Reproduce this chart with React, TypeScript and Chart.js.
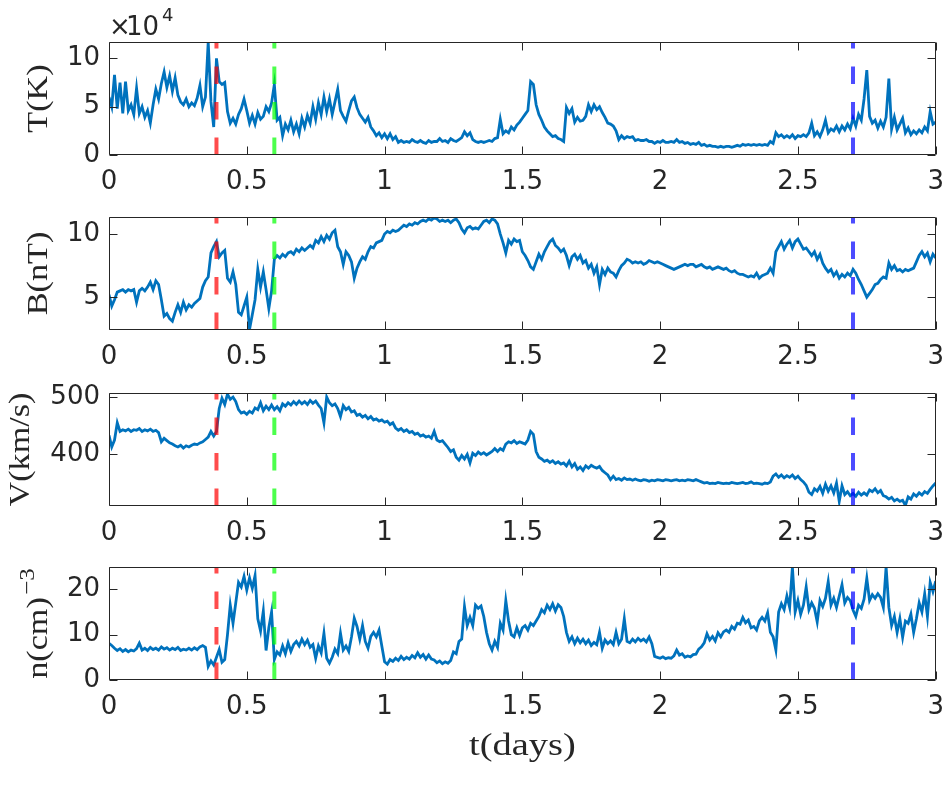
import { useEffect, useRef } from 'react';
import { Chart, registerables } from 'chart.js';

Chart.register(...registerables);

// Sampling interval of every series below, in days
const SAMPLE_STEP_DAYS = 0.01;

// Proton temperature, in units of 10^4 K
const temperature = [
  6.0, 5.0, 8.3, 4.8, 7.5, 4.3, 7.6, 4.6, 5.2, 4.2,
  6.9, 4.3, 5.0, 3.9, 4.6, 3.3, 5.2, 6.8, 5.8, 7.4,
  8.6, 7.0, 8.2, 6.6, 8.0, 6.2, 5.5, 5.2, 5.8, 5.0,
  5.4, 5.1, 5.9, 7.2, 5.0, 6.0, 11.7, 5.5, 2.9, 10.0,
  7.6, 7.3, 7.5, 4.5, 3.3, 3.8, 3.2, 4.2, 4.8, 5.8,
  4.6, 3.3, 4.1, 3.2, 4.4, 3.7, 4.0, 5.0, 4.5, 5.4,
  7.3, 3.6, 3.9, 2.0, 3.2, 2.6, 3.6, 2.4, 3.2, 2.2,
  3.8, 2.9, 4.1, 3.3, 5.0, 3.7, 5.4, 4.2, 6.0, 4.5,
  5.8, 4.2, 5.5, 6.8, 4.6, 4.0, 3.5, 4.6, 5.6, 6.0,
  4.9, 4.2, 3.8, 3.4, 3.9, 2.9, 2.5, 2.0, 2.3, 1.8,
  2.2, 1.7, 2.2, 1.6, 1.9, 1.3, 1.5, 1.3, 1.4, 1.3,
  1.6, 1.4, 1.3, 1.5, 1.3, 1.2, 1.5, 1.3, 1.4, 1.4,
  1.7, 1.4, 1.5, 1.3, 1.7, 1.5, 1.4, 1.6, 1.8, 2.4,
  2.0, 2.3, 1.6, 1.4, 1.3, 1.4, 1.3, 1.4, 1.5, 1.4,
  1.7, 1.8, 3.7, 2.2, 2.5, 2.3, 2.9, 2.6, 3.1, 3.4,
  3.8, 4.2, 4.6, 7.6, 7.3, 5.2, 4.2, 3.6, 2.9, 2.5,
  2.2, 1.9, 2.0, 1.7, 1.6, 1.4, 4.9, 4.3, 4.8, 3.4,
  3.9, 3.5, 3.6, 4.0, 5.2, 4.5, 5.2, 4.7, 5.0, 4.4,
  3.9, 3.3, 3.2, 3.0, 2.5, 1.6, 2.0, 1.7, 1.9, 1.8,
  1.9, 1.5, 1.6, 1.5, 1.5, 1.6, 1.4, 1.4, 1.2, 1.4,
  1.3, 1.5, 1.3, 1.3, 1.4, 1.3, 1.6, 1.3, 1.4, 1.2,
  1.3, 1.1, 1.2, 1.1, 1.3, 1.0, 1.1, 0.9, 1.0, 0.9,
  0.9, 0.8, 0.9, 0.8, 0.9, 0.9, 0.8, 0.9, 1.0, 0.9,
  1.1, 1.0, 1.1, 1.0, 1.1, 1.0, 1.1, 1.0, 1.1, 1.0,
  1.4, 1.2, 2.3, 1.9, 2.1, 1.8, 2.0, 1.8, 2.1, 1.7,
  2.0, 1.9, 2.1, 1.9, 2.3, 3.3, 2.0, 2.4, 1.9, 2.6,
  3.6, 2.3, 2.7, 2.5, 3.0, 2.4, 3.0, 2.6, 3.2, 2.7,
  3.8, 3.0, 4.2, 3.6, 5.8, 8.8, 4.0, 3.3, 3.6, 2.8,
  3.5, 2.9, 3.9, 7.9, 2.7, 3.9, 2.6, 3.2, 3.8, 2.3,
  2.8, 2.1, 2.5, 2.2, 2.6, 2.3, 2.9, 2.5, 4.5, 3.2,
  3.4,
];

// Magnetic field magnitude, nT
const magneticField = [
  5.2, 4.3, 4.8, 5.4, 5.5, 5.6, 5.4, 5.6, 5.5, 5.6,
  4.6, 5.5, 5.7, 5.5, 5.8, 6.2, 5.6, 6.3, 6.0, 4.8,
  3.5, 3.7, 3.3, 3.1, 3.8, 4.4, 3.8, 4.6, 4.0, 4.4,
  4.2, 4.5, 4.7, 4.9, 5.8, 6.3, 6.6, 8.5, 9.0, 9.4,
  8.2, 8.5, 8.7, 6.5, 6.2, 7.0, 6.0, 3.8, 3.6, 4.3,
  5.0, 2.45, 3.6, 4.8, 7.2, 5.8, 7.0, 5.6, 4.1, 5.5,
  8.0, 8.3, 8.1, 8.4, 8.2, 8.5, 8.6, 8.4, 8.8, 8.6,
  8.9, 8.7, 8.9, 9.1, 8.9, 9.5, 9.3, 9.8, 9.4, 9.9,
  9.6, 10.1, 10.3, 9.0, 8.6, 7.6, 8.6, 8.3, 7.8, 6.5,
  7.3, 7.8, 8.2, 8.0, 8.6, 9.0, 8.9, 9.3, 9.4, 9.5,
  10.0, 10.2, 10.1, 10.3, 10.2, 10.3, 10.5, 10.7, 10.6, 10.8,
  10.7, 10.9, 10.8, 11.0, 11.1, 11.0, 11.2, 11.1, 11.3, 11.2,
  11.0, 11.1, 11.0, 11.1, 10.9, 11.1, 11.2, 10.9, 10.4, 10.1,
  10.5, 10.6, 10.4, 10.5, 10.4, 10.7, 11.0, 11.1, 10.9, 11.2,
  11.1, 10.8, 10.0, 9.3, 8.5, 9.5, 9.2, 9.6, 9.4, 9.5,
  8.6, 8.3, 7.9, 7.4, 7.2, 7.8, 8.4, 8.0, 8.6, 9.0,
  9.4, 9.6, 9.1, 8.9, 8.6, 8.8, 8.3, 7.5, 8.2, 8.4,
  8.0, 8.3, 7.7, 7.9, 7.3, 7.6, 6.9, 7.4, 6.0, 7.2,
  6.8, 7.3, 7.0, 6.9, 6.6, 7.1, 7.5, 7.7, 8.0, 7.9,
  7.7, 7.8, 7.7, 7.8, 7.6, 7.7, 7.9, 7.8, 7.7, 7.8,
  7.7, 7.6, 7.5, 7.4, 7.3, 7.2, 7.3, 7.4, 7.5, 7.6,
  7.5, 7.6, 7.6, 7.4, 7.5, 7.6, 7.4, 7.3, 7.4, 7.2,
  7.3, 7.4, 7.3, 7.2, 7.3, 7.1, 7.0, 7.1, 6.9, 6.8,
  6.8, 6.7, 6.6, 6.7, 6.6, 6.9, 6.5, 6.7, 6.8, 6.9,
  7.3, 6.9, 8.6, 9.0, 9.4, 8.8, 9.2, 9.5, 8.9, 9.4,
  9.6, 9.2, 8.8, 8.9, 8.6, 8.3, 8.6, 8.0, 8.4, 7.7,
  7.3, 7.0, 7.2, 6.7, 7.0, 6.5, 6.8, 6.6, 6.9, 6.7,
  7.2, 6.9, 6.4, 6.0, 5.5, 5.0, 5.3, 5.6, 6.0, 6.1,
  6.4, 6.6, 6.5, 7.7, 7.2, 7.5, 7.1, 7.2, 7.0, 7.2,
  7.1, 7.2, 7.3, 7.8, 8.3, 8.6, 8.2, 8.5, 7.8, 8.4,
  8.1,
];

// Bulk solar wind speed, km/s
const speed = [
  433, 413, 425, 455, 440, 443, 441, 444, 440, 443,
  442, 445, 440, 443, 441, 444, 440, 442, 438, 422,
  428, 424, 420, 418, 415, 413, 416, 411, 415, 413,
  416, 418, 417, 420, 422, 426, 430, 440, 432, 440,
  480, 498, 487, 505, 496, 500, 492, 478, 472, 474,
  470, 475, 472, 481, 478, 490, 476, 484, 478, 486,
  478, 483, 476, 488, 484, 490, 486, 492, 487, 493,
  488, 492, 487, 494, 489, 493, 486, 480, 455, 500,
  490, 485, 488, 480, 466, 485, 478, 482, 474, 476,
  468, 470, 465, 468, 462, 466, 460, 462, 458, 460,
  456, 458, 452, 455, 446, 442, 445, 440, 443, 438,
  440, 435, 437, 432, 434, 430, 432, 428, 440, 425,
  422, 424, 418, 412, 405, 408, 395, 390, 398, 392,
  400, 385, 402, 398, 404, 400, 403, 399, 402, 405,
  410, 405, 410, 407, 418, 422, 420, 424, 419, 422,
  420, 418, 425, 440, 435, 405, 395, 392, 388, 390,
  386, 389, 384, 387, 383, 385, 380, 388, 378, 384,
  374, 378, 372, 380, 376, 381, 378, 376, 379, 372,
  368, 364, 356, 362, 356, 358, 355, 359, 356, 357,
  355, 357, 355, 354, 356, 355, 353, 355, 354, 356,
  355, 354, 356, 355, 354, 355, 356, 354, 355, 354,
  356, 355, 354, 356, 354, 352, 350, 351, 349, 350,
  349, 351, 350, 349, 350, 349, 351, 350, 349, 350,
  351, 349, 350, 352, 349, 350, 349, 348, 350, 349,
  352, 362, 366, 360, 364, 359, 363, 360, 364, 358,
  362, 356, 352, 346, 334, 330, 340, 336, 344, 332,
  348, 336, 345, 333, 350, 318, 345, 330, 335, 328,
  332, 327, 334, 329, 333, 329, 338, 335, 340, 333,
  337, 328, 326, 322, 325, 319, 322, 318, 320, 311,
  326, 322, 331, 327, 333, 329, 335, 332, 339, 345,
  350,
];

// Proton number density, cm^-3
const density = [
  8.1, 7.6, 7.0, 6.5, 6.9, 6.3, 6.7, 6.2, 6.6, 6.4,
  6.9, 8.1, 6.6, 7.0, 6.5, 7.2, 6.7, 7.0, 6.6, 7.3,
  6.8, 7.1, 6.6, 7.0, 6.7, 7.2, 6.5, 6.8, 6.6, 7.0,
  6.6, 7.1, 6.7, 7.3, 7.6, 7.2, 3.0, 4.2, 3.3, 5.0,
  6.7, 3.9, 4.5, 10.0, 16.5, 12.5, 17.0, 21.5, 20.5, 22.8,
  19.8, 22.5, 20.2, 23.0, 13.5, 10.8, 15.2, 6.5, 11.5, 15.0,
  4.5, 6.2, 5.5, 7.5, 5.8, 8.2, 6.3, 7.8, 8.5, 7.5,
  9.0, 7.8, 8.8, 7.2, 7.8, 4.8, 7.5, 6.0, 10.3, 4.8,
  3.7, 5.0, 6.8, 5.8, 10.3, 6.6, 7.5, 6.3, 9.5, 13.6,
  11.8, 9.0, 12.0, 8.5, 7.0, 9.6, 10.5, 9.5, 11.0, 7.5,
  4.0, 3.5, 4.5, 4.1, 4.8, 4.3, 5.2, 4.5, 5.0, 4.6,
  5.4, 4.9, 6.0, 5.0, 5.6, 4.6, 5.5, 4.6, 4.4, 3.8,
  4.2, 3.6, 4.0, 3.7, 4.3, 6.2, 5.8, 8.5, 9.0, 16.2,
  12.0, 13.8, 12.0, 16.5, 15.8, 16.3, 14.0, 10.5, 8.0, 6.6,
  8.5, 7.2, 12.5, 11.0, 17.5, 13.0, 10.0, 9.5, 11.5, 9.8,
  11.5, 12.0, 11.0, 12.5, 12.0, 13.0, 14.0, 15.5, 14.8, 16.5,
  15.5, 16.8, 15.2, 16.6, 16.0, 14.0, 10.5, 8.5, 9.5, 8.0,
  9.2, 8.2, 9.0, 8.0, 8.8, 7.6, 8.3, 7.8, 10.5, 7.0,
  8.8, 8.0, 8.6, 7.8, 10.5, 8.0, 9.0, 13.5, 8.5, 8.2,
  9.0, 8.4, 9.2, 8.6, 9.0, 8.4, 9.5, 8.0, 5.2, 5.0,
  4.8, 5.1, 4.7, 4.9, 4.8, 5.3, 6.6, 5.5, 5.8, 5.0,
  5.3, 5.1, 5.6, 5.7, 6.8, 7.3, 8.2, 10.2, 8.8, 9.6,
  8.6, 10.4, 9.5, 10.6, 11.0, 10.5, 11.8, 11.2, 12.5, 12.3,
  13.8, 12.6, 13.2, 11.5, 11.8, 11.0, 13.0, 13.8, 13.0, 14.8,
  10.5, 9.5, 6.6, 15.0, 16.8, 15.5, 18.5, 16.0, 24.9, 15.0,
  17.5, 14.5, 16.5, 20.5, 15.5, 17.0, 15.8, 12.8, 17.5, 16.2,
  18.0, 21.7, 16.5, 18.0, 16.0, 18.5, 21.0, 17.0, 18.2, 17.5,
  15.4, 14.0, 16.5, 15.8, 17.8, 22.4, 17.5, 18.8, 18.0, 19.0,
  18.2, 16.0, 24.9, 16.0, 12.0, 14.0, 10.5, 13.5, 9.4, 13.0,
  12.5, 14.5, 10.5, 13.5, 17.0, 15.0, 19.0, 14.0, 21.5, 19.5,
  21.8,
];

// Axis ticks
const timeTicks = [0, 0.5, 1, 1.5, 2, 2.5, 3];
const temperatureTicks = [0, 5, 10];
const fieldTicks = [5, 10];
const speedTicks = [400, 500];
const densityTicks = [0, 10, 20];

// Event markers (days) and their colours
const eventTimes = [0.39, 0.6, 2.7];
const eventColors = ['rgba(255,0,0,0.7)', 'rgba(0,255,0,0.7)', 'rgba(0,0,255,0.7)'];

const PANELS = [
  { values: temperature, min: 0, max: 11.7, ticks: temperatureTicks, label: 'T(K)', sup: '', labelX: 47, exponent: true },
  { values: magneticField, min: 2.4, max: 11.35, ticks: fieldTicks, label: 'B(nT)', sup: '', labelX: 47, exponent: false },
  { values: speed, min: 310, max: 507, ticks: speedTicks, label: 'V(km/s)', sup: '', labelX: 29, exponent: false },
  { values: density, min: 0, max: 24.9, ticks: densityTicks, label: 'n(cm)', sup: '\u22123', labelX: 47, exponent: false },
];

const PAGE_W = 949;
const PAGE_H = 787;
const PLOT_LEFT = 109;
const PLOT_RIGHT = 935.7;
const PANEL_TOPS = [42, 217, 393, 567];
const PANEL_H = 113;
const TOP_PAD = 40;
const X_AXIS_H = 50;
const TICK_LEN = 8;
const AXIS_COLOR = '#262626';
const LINE_COLOR = '#0072BD';
const SANS = '"DejaVu Sans", sans-serif';
const SERIF = '"Liberation Serif", serif';

function drawSerifLabel(ctx, text, sup, size, stretch) {
  ctx.font = `${size}px ${SERIF}`;
  const w1 = ctx.measureText(text).width;
  let w2 = 0;
  const supSize = Math.round(size * 0.72);
  if (sup) {
    ctx.font = `${supSize}px ${SERIF}`;
    w2 = ctx.measureText(sup).width + 2;
  }
  ctx.scale(stretch, 1);
  const start = -(w1 + w2) / 2;
  ctx.textAlign = 'left';
  ctx.textBaseline = 'alphabetic';
  ctx.font = `${size}px ${SERIF}`;
  ctx.fillText(text, start, 0);
  if (sup) {
    ctx.font = `${supSize}px ${SERIF}`;
    ctx.fillText(sup, start + w1 + 2, -size * 0.42);
  }
}

const panelOverlay = {
  id: 'panelOverlay',
  afterDraw(chart) {
    const { ctx, chartArea: a, scales } = chart;
    const x = scales.x;
    const y = scales.y;
    const cfg = chart.options.plugins.panelOverlay;

    // dashed event markers, drawn upward from the bottom of the panel
    ctx.save();
    ctx.beginPath();
    ctx.rect(a.left, a.top, a.right - a.left, a.bottom - a.top);
    ctx.clip();
    ctx.lineWidth = 4;
    ctx.lineCap = 'butt';
    ctx.setLineDash([17.5, 18]);
    eventTimes.forEach((t, i) => {
      const px = x.getPixelForValue(t);
      ctx.strokeStyle = eventColors[i];
      ctx.beginPath();
      ctx.moveTo(px, a.bottom);
      ctx.lineTo(px, a.top);
      ctx.stroke();
    });
    ctx.restore();

    // axes box with inward ticks on all sides
    ctx.save();
    ctx.strokeStyle = AXIS_COLOR;
    ctx.lineWidth = 1;
    const L = Math.round(a.left) + 0.5;
    const R = Math.round(a.right) - 0.5;
    const T = Math.round(a.top) + 0.5;
    const B = Math.round(a.bottom) - 0.5;
    ctx.beginPath();
    ctx.rect(L, T, R - L, B - T);
    timeTicks.forEach((v) => {
      const px = Math.round(x.getPixelForValue(v)) + 0.5;
      ctx.moveTo(px, B);
      ctx.lineTo(px, B - TICK_LEN);
      ctx.moveTo(px, T);
      ctx.lineTo(px, T + TICK_LEN);
    });
    cfg.ticks.forEach((v) => {
      const py = Math.round(y.getPixelForValue(v)) + 0.5;
      ctx.moveTo(L, py);
      ctx.lineTo(L + TICK_LEN, py);
      ctx.moveTo(R, py);
      ctx.lineTo(R - TICK_LEN, py);
    });
    ctx.stroke();
    ctx.restore();

    // y-axis title
    ctx.save();
    ctx.fillStyle = AXIS_COLOR;
    ctx.translate(cfg.labelX, (a.top + a.bottom) / 2);
    ctx.rotate(-Math.PI / 2);
    drawSerifLabel(ctx, cfg.label, cfg.sup, 30, 1.14);
    ctx.restore();

    // exponent note above the first panel
    if (cfg.exponent) {
      ctx.save();
      ctx.fillStyle = AXIS_COLOR;
      ctx.textAlign = 'left';
      ctx.textBaseline = 'alphabetic';
      ctx.font = `26px ${SANS}`;
      ctx.fillText('\u00d7', 109, a.top - 7);
      ctx.fillText('10', 126, a.top - 7);
      ctx.font = `18px ${SANS}`;
      ctx.fillText('4', 162, a.top - 21);
      ctx.restore();
    }

    // shared time axis title below the last panel
    if (cfg.xTitle) {
      ctx.save();
      ctx.fillStyle = AXIS_COLOR;
      ctx.translate((a.left + a.right) / 2, a.bottom + 75);
      drawSerifLabel(ctx, 't(days)', '', 32, 1.2);
      ctx.restore();
    }
  },
};

function PanelChart({ index }) {
  const ref = useRef(null);
  const panel = PANELS[index];
  const isLast = index === PANELS.length - 1;
  const canvasTop = PANEL_TOPS[index] - TOP_PAD;
  const canvasH = isLast ? PAGE_H - canvasTop : TOP_PAD + PANEL_H + X_AXIS_H;
  const bottomPad = canvasH - TOP_PAD - PANEL_H - X_AXIS_H;

  useEffect(() => {
    const points = panel.values.map((v, i) => ({ x: i * SAMPLE_STEP_DAYS, y: v }));
    const chart = new Chart(ref.current, {
      type: 'line',
      data: {
        datasets: [
          {
            data: points,
            borderColor: LINE_COLOR,
            borderWidth: 2.8,
            pointRadius: 0,
            tension: 0,
            fill: false,
            clip: 0,
          },
        ],
      },
      options: {
        responsive: false,
        animation: false,
        events: [],
        layout: {
          padding: { top: TOP_PAD, left: 0, right: PAGE_W - PLOT_RIGHT, bottom: bottomPad },
        },
        plugins: {
          legend: { display: false },
          tooltip: { enabled: false },
          panelOverlay: {
            ticks: panel.ticks,
            label: panel.label,
            sup: panel.sup,
            labelX: panel.labelX,
            exponent: panel.exponent,
            xTitle: isLast,
          },
        },
        scales: {
          x: {
            type: 'linear',
            min: 0,
            max: 3,
            grid: { display: false, drawTicks: false },
            border: { display: false },
            afterBuildTicks: (s) => {
              s.ticks = timeTicks.map((v) => ({ value: v }));
            },
            afterFit: (s) => {
              s.height = X_AXIS_H;
              s.paddingLeft = 0;
              s.paddingRight = 0;
            },
            ticks: {
              font: { family: SANS, size: 26 },
              color: AXIS_COLOR,
              padding: 12,
              maxRotation: 0,
              autoSkip: false,
              callback: (v) => String(v),
            },
          },
          y: {
            type: 'linear',
            min: panel.min,
            max: panel.max,
            grid: { display: false, drawTicks: false },
            border: { display: false },
            afterBuildTicks: (s) => {
              s.ticks = panel.ticks.map((v) => ({ value: v }));
            },
            afterFit: (s) => {
              s.width = PLOT_LEFT;
              s.paddingTop = 0;
              s.paddingBottom = 0;
            },
            ticks: {
              font: { family: SANS, size: 26 },
              color: AXIS_COLOR,
              padding: 9,
              callback: (v) => String(v),
            },
          },
        },
      },
      plugins: [panelOverlay],
    });
    return () => chart.destroy();
  }, [index]);

  return (
    <canvas
      ref={ref}
      width={PAGE_W}
      height={canvasH}
      style={{ position: 'absolute', left: 0, top: canvasTop, width: PAGE_W, height: canvasH }}
    />
  );
}

export default function App() {
  return (
    <div
      style={{
        position: 'absolute',
        left: 0,
        top: 0,
        width: PAGE_W,
        height: PAGE_H,
        background: '#ffffff',
        overflow: 'hidden',
      }}
    >
      {PANELS.map((_, i) => (
        <PanelChart key={i} index={i} />
      ))}
    </div>
  );
}
